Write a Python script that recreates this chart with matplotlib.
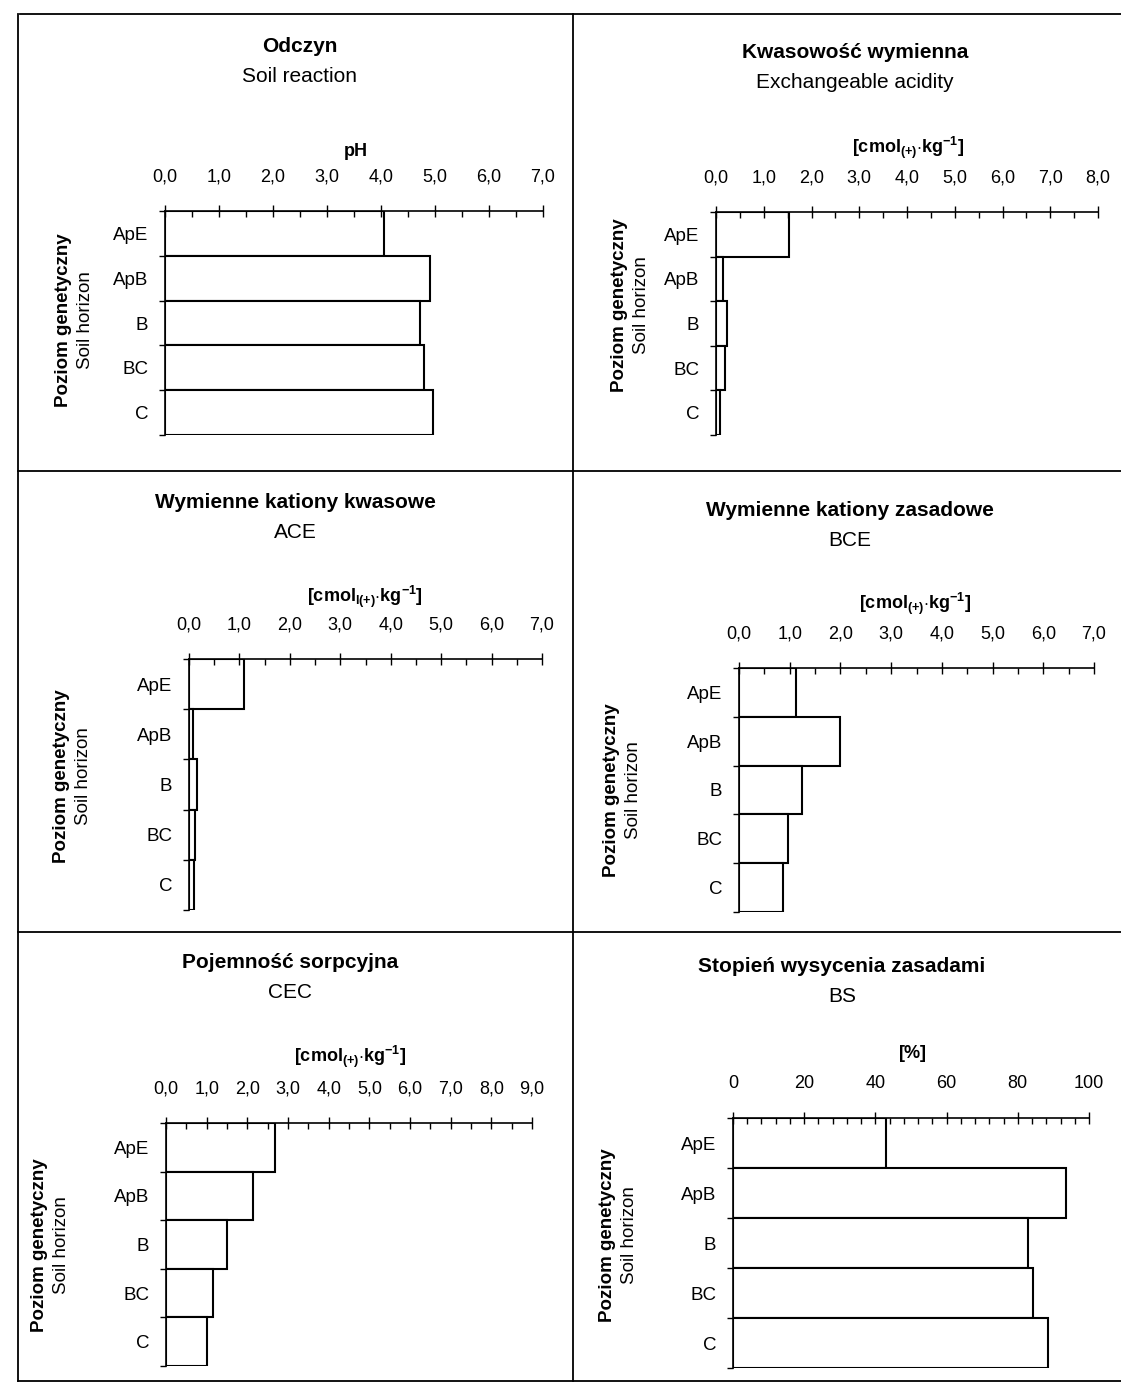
import matplotlib
matplotlib.use("Agg")
import matplotlib.pyplot as plt
from matplotlib.lines import Line2D
from matplotlib.ticker import MultipleLocator, FixedLocator, FuncFormatter

plt.rcParams['font.family'] = ['Liberation Sans', 'DejaVu Sans']
plt.rcParams['mathtext.fontset'] = 'custom'
plt.rcParams['mathtext.rm'] = 'Liberation Sans:bold'
plt.rcParams['mathtext.bf'] = 'Liberation Sans:bold'
plt.rcParams['mathtext.it'] = 'Liberation Sans:bold'
plt.rcParams['mathtext.default'] = 'bf'

W, H = 1121, 1384

# ---- data ----
horizons = ["ApE", "ApB", "B", "BC", "C"]
ph_values = [4.05, 4.90, 4.72, 4.80, 4.97]
exch_acidity = [1.52, 0.15, 0.24, 0.19, 0.09]
ace_values = [1.09, 0.08, 0.16, 0.12, 0.10]
bce_values = [1.12, 1.99, 1.24, 0.97, 0.87]
cec_values = [2.68, 2.14, 1.51, 1.15, 1.01]
bs_values = [42.9, 93.4, 83.0, 84.4, 88.5]

titles_pl = ["Odczyn", "Kwasowość wymienna", "Wymienne kationy kwasowe",
             "Wymienne kationy zasadowe", "Pojemność sorpcyjna", "Stopień wysycenia zasadami"]
titles_en = ["Soil reaction", "Exchangeable acidity", "ACE", "BCE", "CEC", "BS"]
units = [r"$\mathbf{pH}$",
         r"$\mathbf{[cmol_{(+)}{\cdot}kg^{-1}]}$",
         r"$\mathbf{[cmol_{l(+)}{\cdot}kg^{-1}]}$",
         r"$\mathbf{[cmol_{(+)}{\cdot}kg^{-1}]}$",
         r"$\mathbf{[cmol_{(+)}{\cdot}kg^{-1}]}$",
         r"$\mathbf{[\%]}$"]
xmax_list = [7, 8, 7, 7, 9, 100]
major_step = [1, 1, 1, 1, 1, 20]
minor_step = [0.5, 0.5, 0.5, 0.5, 0.5, 4]
decimal_fmt = [True, True, True, True, True, False]
values_list = [ph_values, exch_acidity, ace_values, bce_values, cec_values, bs_values]

# ---- layout (pixels) ----
axes_px = [  # left, right, top, bottom
    (165, 543, 211, 435),
    (716, 1098, 212, 435),
    (189, 542, 659, 910),
    (739, 1094, 668, 912),
    (166, 532, 1123, 1366),
    (733, 1089, 1118, 1368),
]
title_px = [(300, 47), (855, 53), (295, 503), (850, 510), (290, 963), (842, 967)]
unit_px = [(355, 152), (908, 148), (365, 597), (915, 604), (350, 1057), (912, 1053)]
ylab_px = [(64, 320), (620, 305), (62, 776), (612, 790), (40, 1245), (607, 1235)]

fig = plt.figure(figsize=(W / 100, H / 100), dpi=100)
fig.patch.set_facecolor("white")


def fx(x):
    return x / W


def fy(y):
    return 1 - y / H


def comma_fmt(v, pos):
    return f"{v:.1f}".replace(".", ",")


for i in range(6):
    l, r, t, b = axes_px[i]
    ax = fig.add_axes([fx(l), fy(b), (r - l) / W, (b - t) / H])
    vals = values_list[i]
    ax.barh(range(len(horizons)), vals, height=1.0, color="white",
            edgecolor="black", linewidth=1.5, zorder=2)
    ax.set_axisbelow(False)
    ax.set_xlim(0, xmax_list[i])
    ax.set_ylim(len(horizons) - 0.5, -0.5)
    ax.xaxis.set_ticks_position("top")
    ax.xaxis.set_major_locator(MultipleLocator(major_step[i]))
    ax.xaxis.set_minor_locator(MultipleLocator(minor_step[i]))
    if decimal_fmt[i]:
        ax.xaxis.set_major_formatter(FuncFormatter(comma_fmt))
    else:
        ax.xaxis.set_major_formatter(FuncFormatter(lambda v, p: f"{v:.0f}"))
    ax.tick_params(axis="x", which="major", direction="inout", length=9,
                   width=1.0, labelsize=13, pad=14)
    ax.tick_params(axis="x", which="minor", direction="in", length=4, width=1.0)
    ax.set_yticks(range(len(horizons)))
    ax.set_yticklabels(horizons)
    ax.yaxis.set_minor_locator(FixedLocator([k - 0.5 for k in range(len(horizons) + 1)]))
    ax.tick_params(axis="y", which="major", length=0, labelsize=13.5, pad=12)
    ax.tick_params(axis="y", which="minor", direction="out", length=4, width=1.0)
    for s in ["right", "bottom"]:
        ax.spines[s].set_visible(False)
    ax.spines["top"].set_linewidth(1.2)
    ax.spines["left"].set_linewidth(1.2)
    ax.patch.set_alpha(0)

    tx, ty = title_px[i]
    fig.text(fx(tx), fy(ty), titles_pl[i], ha="center", va="center",
             fontsize=15, fontweight="bold")
    fig.text(fx(tx), fy(ty + 30), titles_en[i], ha="center", va="center",
             fontsize=15)
    ux, uy = unit_px[i]
    fig.text(fx(ux), fy(uy), units[i], ha="center", va="center", fontsize=13)
    yx, yy = ylab_px[i]
    fig.text(fx(yx), fy(yy), "Poziom genetyczny", ha="center", va="center",
             rotation=90, fontsize=13.5, fontweight="bold")
    fig.text(fx(yx + 22), fy(yy), "Soil horizon", ha="center", va="center",
             rotation=90, fontsize=13.5)

# ---- panel frame lines ----
frame = [
    ((20, 1121), (14, 14)),
    ((18, 18), (14, 1381)),
    ((18, 1121), (1381, 1381)),
    ((573, 573), (14, 1381)),
    ((18, 1121), (471, 471)),
    ((18, 1121), (932, 932)),
]
for xs, ys in frame:
    fig.add_artist(Line2D([fx(xs[0]), fx(xs[1])], [fy(ys[0]), fy(ys[1])],
                          transform=fig.transFigure, color="black", linewidth=1.3))

fig.savefig("out.png", dpi=100, facecolor="white")
